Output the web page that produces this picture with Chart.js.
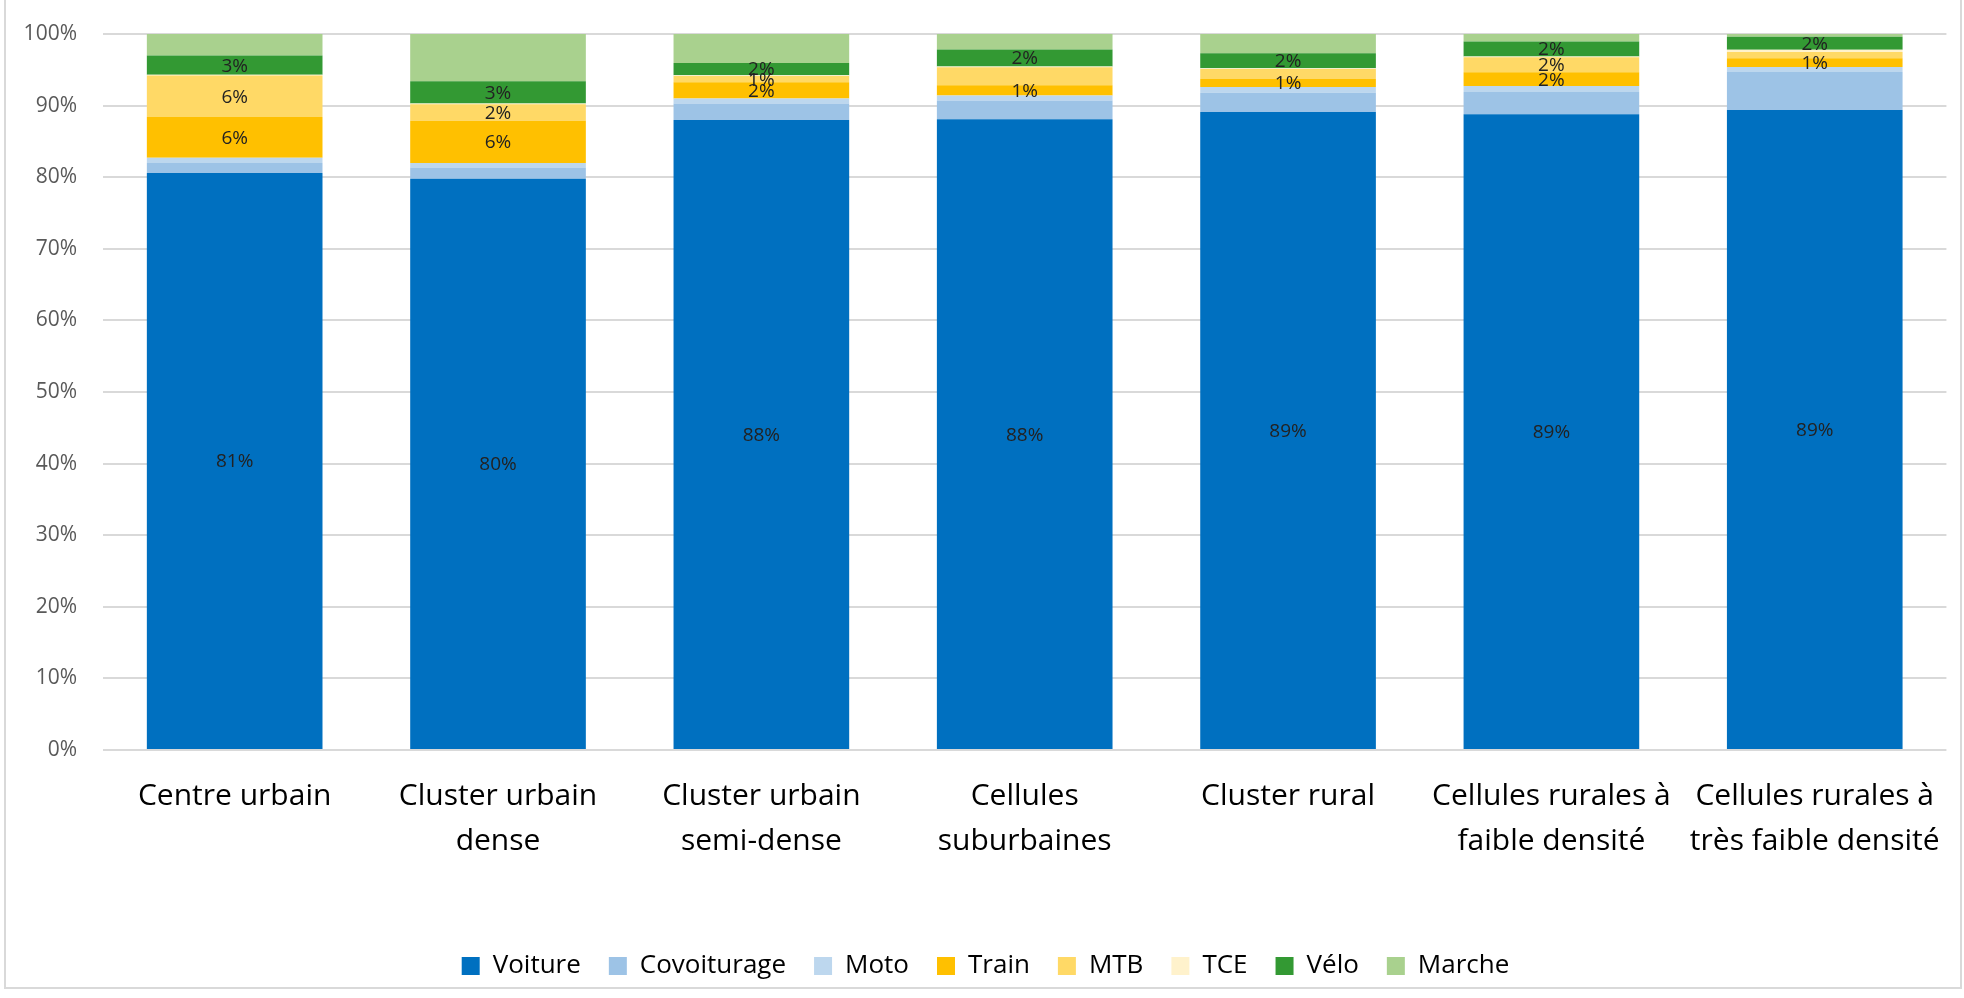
<!DOCTYPE html>
<html>
<head>
<meta charset="utf-8">
<script src="https://cdn.jsdelivr.net/npm/chart.js@4"></script>
<style>
  body { margin: 0; background: #fff; }
  #wrap { width: 1964px; height: 998px; position: relative; }
</style>
</head>
<body>
<div id="wrap"><canvas id="myChart"></canvas></div>
<script>
// categories (x axis), multi-line ones as arrays
var categories = [
  "Centre urbain",
  ["Cluster urbain", "dense"],
  ["Cluster urbain", "semi-dense"],
  ["Cellules", "suburbaines"],
  "Cluster rural",
  ["Cellules rurales à", "faible densité"],
  ["Cellules rurales à", "très faible densité"]
];

// modal share per category, in %
var voiture     = [80.6, 79.8, 88.0, 88.1, 89.1, 88.8, 89.4];
var covoiturage = [1.4, 1.55, 2.3, 2.6, 2.7, 3.1, 5.3];
var moto        = [0.7, 0.65, 0.7, 0.7, 0.8, 0.85, 0.7];
var train       = [5.7, 5.9, 2.25, 1.45, 1.1, 1.9, 1.2];
var mtb         = [5.8, 2.3, 0.9, 2.5, 1.4, 2.1, 0.9];
var tce         = [0.1, 0.1, 0.1, 0.1, 0.1, 0.1, 0.3];
var velo        = [2.7, 3.1, 1.7, 2.4, 2.1, 2.1, 1.8];
var marche      = [3.1, 6.7, 4.1, 2.2, 2.8, 1.1, 0.4];

// y axis ticks
var yTicks = [0, 10, 20, 30, 40, 50, 60, 70, 80, 90, 100];

// which segments carry a value label in the original
var labelledSeries = ["Voiture", "Train", "Vélo", "MTB"];
var mtbLabelShown = [true, true, true, false, false, true, false];

const FONT = "'Open Sans', 'Liberation Sans', sans-serif";

// draws the % value in the middle of a segment
const valueLabels = {
  id: "valueLabels",
  afterDatasetsDraw(chart) {
    const ctx = chart.ctx;
    ctx.save();
    ctx.font = "19px " + FONT;
    ctx.fillStyle = "#222222";
    ctx.textAlign = "center";
    ctx.textBaseline = "middle";
    chart.data.datasets.forEach(function (ds, i) {
      if (labelledSeries.indexOf(ds.label) < 0) return;
      const meta = chart.getDatasetMeta(i);
      meta.data.forEach(function (bar, j) {
        if (ds.label === "MTB" && !mtbLabelShown[j]) return;
        const v = ds.data[j];
        ctx.fillText(Math.round(v) + "%", bar.x, (bar.y + bar.base) / 2 + 1);
      });
    });
    ctx.restore();
  }
};

// white background + light frame round the chart
const frame = {
  id: "frame",
  beforeDraw(chart) {
    const ctx = chart.ctx;
    ctx.save();
    ctx.fillStyle = "#ffffff";
    ctx.fillRect(0, 0, chart.width, chart.height);
    ctx.restore();
  },
  afterDraw(chart) {
    const ctx = chart.ctx;
    ctx.save();
    ctx.strokeStyle = "#d9d9d9";
    ctx.lineWidth = 2;
    ctx.strokeRect(5, -2, 1956, 990);
    ctx.restore();
  }
};

function series(label, values, color) {
  return {
    label: label,
    data: values,
    backgroundColor: color,
    borderWidth: 0,
    categoryPercentage: 1,
    barPercentage: 0.667
  };
}

const data = {
  labels: categories,
  datasets: [
    series("Voiture", voiture, "#0070C0"),
    series("Covoiturage", covoiturage, "#9DC3E6"),
    series("Moto", moto, "#BDD7EE"),
    series("Train", train, "#FFC000"),
    series("MTB", mtb, "#FFD966"),
    series("TCE", tce, "#FFF2CC"),
    series("Vélo", velo, "#339933"),
    series("Marche", marche, "#A9D18E")
  ]
};

const config = {
  type: "bar",
  data: data,
  options: {
    responsive: true,
    maintainAspectRatio: false,
    animation: false,
    layout: {
      padding: { top: 34, right: 5, bottom: 9, left: 12 }
    },
    plugins: {
      legend: {
        position: "bottom",
        labels: {
          boxWidth: 18,
          boxHeight: 18,
          padding: 28,
          color: "#000000",
          font: { family: FONT, size: 26 }
        }
      },
      tooltip: { enabled: false },
      title: { display: false }
    },
    scales: {
      x: {
        stacked: true,
        grid: { display: false, drawTicks: false },
        border: { display: false },
        ticks: {
          color: "#000000",
          padding: 24,
          maxRotation: 0,
          autoSkip: false,
          font: { family: FONT, size: 30, lineHeight: 1.5 }
        },
        afterFit: function (scale) { scale.height = 175; }
      },
      y: {
        stacked: true,
        min: 0,
        max: 100,
        grid: { color: "#d9d9d9", lineWidth: 2, drawTicks: false },
        border: { display: false },
        afterBuildTicks: function (scale) {
          scale.ticks = yTicks.map(function (v) { return { value: v }; });
        },
        ticks: {
          color: "#595959",
          padding: 26,
          font: { family: FONT, size: 21 },
          callback: function (v) { return v + "%"; }
        },
        afterFit: function (scale) {
          scale.width = 91;
          // let the top label overhang instead of pushing the plot down
          scale.paddingTop = 0;
          scale.paddingBottom = 0;
        }
      }
    }
  },
  plugins: [valueLabels, frame]
};

var chart = new Chart("myChart", config);
</script>
</body>
</html>
